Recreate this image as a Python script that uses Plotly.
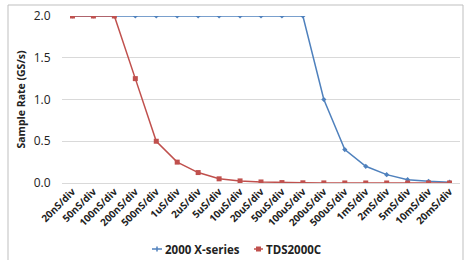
import plotly.graph_objects as go

categories = ["20nS/div", "50nS/div", "100nS/div", "200nS/div", "500nS/div",
              "1uS/div", "2uS/div", "5uS/div", "10uS/div", "20uS/div",
              "50uS/div", "100uS/div", "200uS/div", "500uS/div", "1mS/div",
              "2mS/div", "5mS/div", "10mS/div", "20mS/div"]
x_series = [2.0, 2.0, 2.0, 2.0, 2.0, 2.0, 2.0, 2.0, 2.0, 2.0, 2.0, 2.0,
            1.0, 0.4, 0.2, 0.1, 0.04, 0.02, 0.01]
tds2000c = [2.0, 2.0, 2.0, 1.25, 0.5, 0.25, 0.125, 0.05, 0.025, 0.0125,
            0.005, 0.0025, 0.00125, 0.0005, 0.00025, 0.000125, 0.00005,
            0.000025, 0.0000125]
series_names = ["2000 X-series", "TDS2000C"]
series_colors = ["#4F81BD", "#C0504D"]

font = "Open Sans"
L, T, W, H = 62, 16, 398, 167


def px(x):
    return (x - L) / W


def py(y):
    return (T + H - y) / H


fig = go.Figure()
fig.add_trace(go.Scatter(x=categories, y=x_series, name=series_names[0],
                         mode="lines+markers",
                         line=dict(color=series_colors[0], width=1.5),
                         marker=dict(symbol="diamond", size=4, color=series_colors[0])))
fig.add_trace(go.Scatter(x=categories, y=tds2000c, name=series_names[1],
                         mode="lines+markers",
                         line=dict(color=series_colors[1], width=1.5),
                         marker=dict(symbol="square", size=5, color=series_colors[1])))

fig.update_layout(
    width=464, height=260,
    margin=dict(l=L, r=464 - L - W, t=T, b=260 - T - H),
    paper_bgcolor="white", plot_bgcolor="white",
    font=dict(family=font, size=11, color="#222222"),
    showlegend=False,
    xaxis=dict(type="category", range=[-0.5, 18.5], tickangle=-45,
               tickfont=dict(size=10, family=font, color="#222222"),
               showgrid=False, showline=False, ticks="", zeroline=False,
               tickprefix="<b>", ticksuffix="</b>"),
    yaxis=dict(range=[0, 2.0], tickvals=[0, 0.5, 1.0, 1.5, 2.0],
               tickformat=".1f", tickprefix="<b>", ticksuffix="</b>",
               tickfont=dict(size=12, family=font, color="#222222"),
               showgrid=True, gridcolor="#D9D9D9", gridwidth=1,
               zeroline=True, zerolinecolor="#D9D9D9", zerolinewidth=1,
               showline=False, ticks="outside", ticklen=8, tickcolor="white",
               title=dict(text="<b>Sample Rate (GS/s)</b>", standoff=6,
                          font=dict(size=10.5, family=font, color="#222222"))),
)
fig.update_yaxes(automargin=False)
fig.update_xaxes(automargin=False)
fig.add_shape(type="rect", xref="paper", yref="paper",
              x0=px(8), x1=px(463), y0=py(262), y1=py(5),
              line=dict(color="#BFBFBF", width=1), fillcolor="rgba(0,0,0,0)",
              layer="below")

# custom legend (short Excel-style keys)
leg_y = 249
keys = [(152, 162), (254, 263)]
for (x0, x1), name, col, sym in zip(keys, series_names, series_colors, ["diamond", "square"]):
    fig.add_shape(type="line", xref="paper", yref="paper",
                  x0=px(x0), x1=px(x1), y0=py(leg_y), y1=py(leg_y),
                  line=dict(color=col, width=1.5))
    cx = (x0 + x1) / 2
    if sym == "square":
        fig.add_shape(type="rect", xref="paper", yref="paper",
                      x0=px(cx - 2.5), x1=px(cx + 2.5), y0=py(leg_y + 2.5), y1=py(leg_y - 2.5),
                      line=dict(width=0), fillcolor=col)
    else:
        fig.add_shape(type="line", xref="paper", yref="paper",
                      x0=px(cx), x1=px(cx), y0=py(leg_y + 2.5), y1=py(leg_y - 2.5),
                      line=dict(color=col, width=1.5))
    fig.add_annotation(xref="paper", yref="paper", x=px(x1 + 0.5), y=py(leg_y),
                       xanchor="left", yanchor="middle", showarrow=False,
                       text="<b>" + name + "</b>",
                       font=dict(size=11.5, family=font, color="#222222"))

fig.write_html("out.html", config={"displayModeBar": False},
               post_script="document.body.style.margin='0';document.body.style.overflow='hidden';")
